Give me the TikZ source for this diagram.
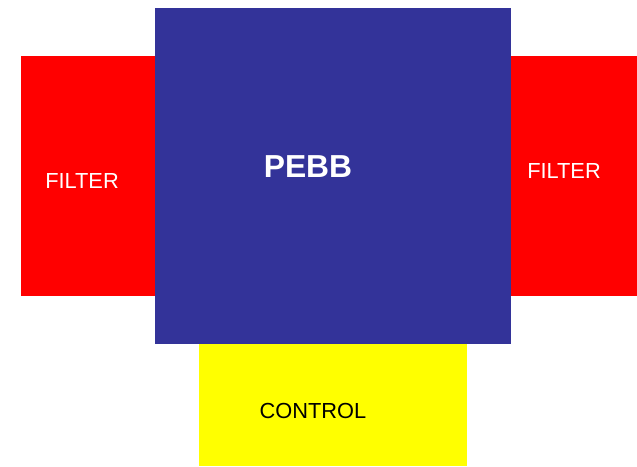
\documentclass[tikz,border=0pt]{standalone}
\usepackage{fontspec}
\setmainfont{Liberation Sans}
\definecolor{pebbblue}{RGB}{51,51,153}
\definecolor{ctrlyellow}{RGB}{255,255,0}
\definecolor{filtred}{RGB}{255,0,0}

\begin{document}
\begin{tikzpicture}[x=1pt,y=-1pt,
		block/.style={rectangle,inner sep=0pt,outer sep=0pt,anchor=north west},
		lbl/.style={font=\fontsize{21.8}{26}\selectfont}]
		\useasboundingbox (0,0) rectangle (637,466);
		% filters on both sides, the PEBB over them, control below
		\node[block,fill=filtred,minimum width=134pt,minimum height=240pt] (lfilter) at (21,56) {};
		\node[block,fill=filtred,minimum width=126pt,minimum height=240pt] (rfilter) at (511,56) {};
		\node[block,fill=pebbblue,minimum width=356pt,minimum height=336pt] (pebb) at (155,8) {};
		\node[block,fill=ctrlyellow,minimum width=268pt,minimum height=122pt] (control) at (199,344) {};
		% labels
		\node[lbl,text=white] (lname) at (82,181) {FILTER};
		\node[lbl,text=white] (rname) at (564,171) {FILTER};
		\node[text=white,font=\fontsize{31.8}{36}\selectfont\bfseries] (pname) at (308,167) {PEBB};
		\node[lbl] (cname) at (313,411) {CONTROL};
\end{tikzpicture}
\end{document}
